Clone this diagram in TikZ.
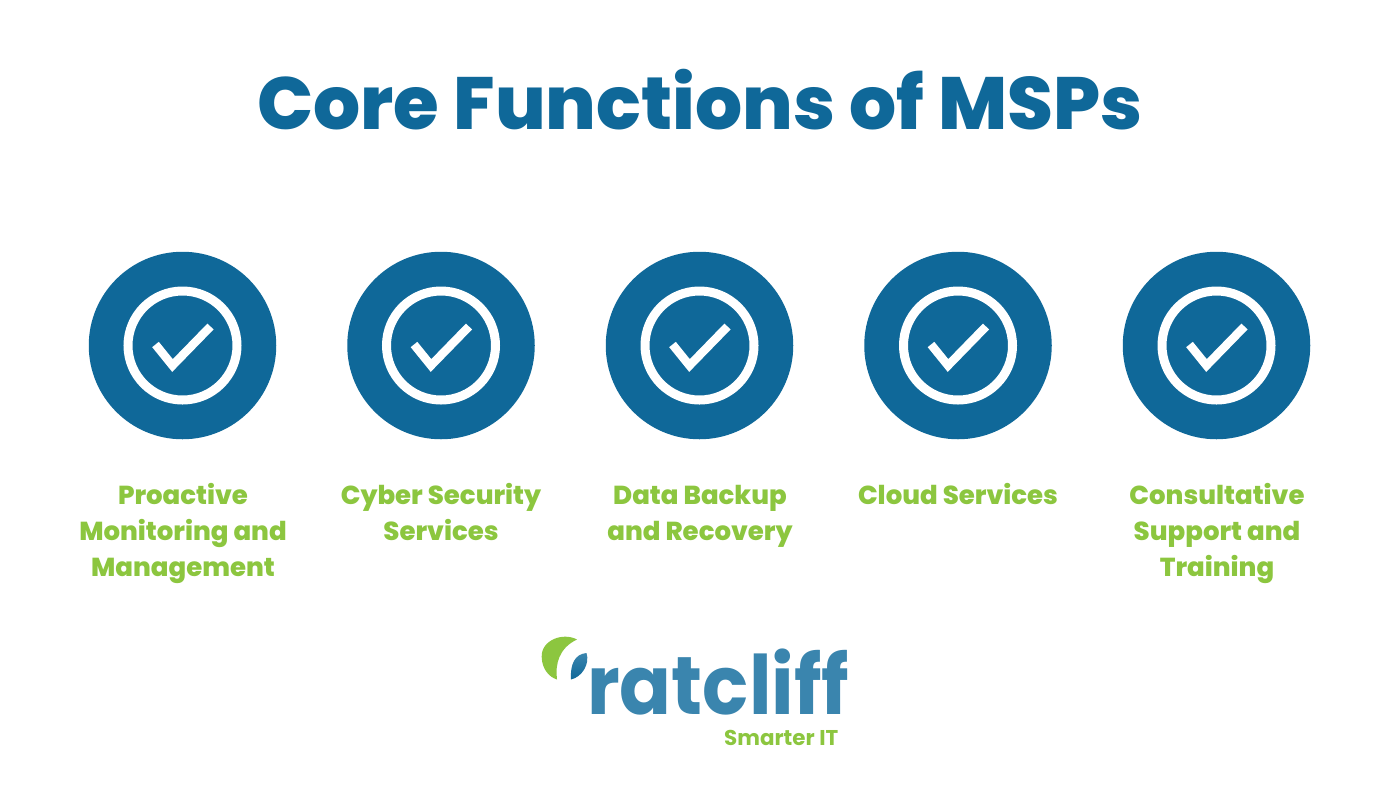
\documentclass[tikz,border=0pt]{standalone}
\usepackage{fontspec}
\setmainfont{Poppins}[BoldFont={Poppins Bold}]
\newfontfamily\popx{Poppins ExtraBold}
\definecolor{mspblue}{HTML}{0F6899}
\definecolor{mspgreen}{HTML}{8CC63F}
\definecolor{logoblue}{HTML}{3A85AE}
\newcommand{\tallline}{\rule{0pt}{25pt}}
\tikzset{
  disc/.style={circle,fill=mspblue,draw=none,minimum size=187.5pt,inner sep=0pt},
  ring/.style={circle,draw=white,line width=9pt,minimum size=109pt,inner sep=0pt},
  tick/.style={draw=white,line width=8.5pt,miter limit=10},
  lab/.style={text=mspgreen,font=\fontsize{26}{36}\selectfont\popx,align=center,anchor=north,inner sep=0pt}
}
\newcommand{\badge}[2]{%
  \node[disc] (d#1) at (#2,345.5) {};
  \node[ring] (r#1) at (#2,345.5) {};
  \draw[tick] ([shift={(-27,-1)}]d#1.center) -- ([shift={(-10,20)}]d#1.center) -- ([shift={(28,-19)}]d#1.center);
}
\begin{document}
\begin{tikzpicture}[x=1pt,y=-1pt]
\useasboundingbox (0,0) rectangle (1400,788);
\fill[white] (0,0) rectangle (1400,788);
\node[text=mspblue,font=\fontsize{74}{80}\selectfont\popx,inner sep=0pt] (title) at (700,100) {Core Functions of MSPs};
\badge{a}{182.5}
\badge{b}{441}
\badge{c}{699.5}
\badge{d}{958}
\badge{e}{1216.5}
\node[lab] (la) at (183,479) {\tallline Proactive\\Monitoring and\\Management};
\node[lab] (lb) at (441,479) {\tallline Cyber Security\\Services};
\node[lab] (lc) at (700,479) {\tallline Data Backup\\and Recovery};
\node[lab] (ld) at (958,479) {\tallline Cloud Services};
\node[lab] (le) at (1217,479) {\tallline Consultative\\Support and\\Training};
% logo
\fill[mspgreen] (577,639.5) .. controls (563,632) and (541,640) .. (541.7,657) .. controls (542,669) and (549,677) .. (557,679.5) .. controls (555,664) and (559,648) .. (577,639.5) -- cycle;
\shade[top color=logoblue,bottom color=mspblue] (586.5,653) .. controls (575,654) and (570,664) .. (571,679.5) .. controls (582,677) and (590,664) .. (586.5,653) -- cycle;
\node[text=logoblue,font=\fontsize{78}{80}\selectfont\bfseries,anchor=base west,inner sep=0pt,xscale=.98,yscale=1.05] (logo) at (587,714.5) {ratcliff};
\node[text=mspgreen,font=\fontsize{21.4}{22}\selectfont\bfseries,anchor=base west,inner sep=0pt] (smart) at (724,745) {Smarter IT};
\end{tikzpicture}
\end{document}
